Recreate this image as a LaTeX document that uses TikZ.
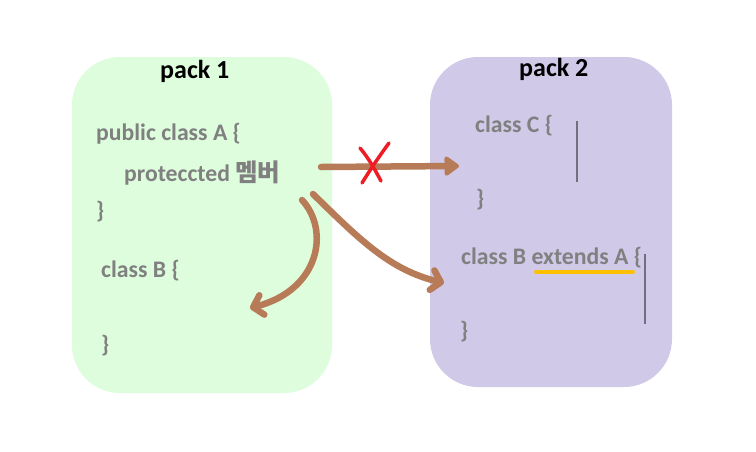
\documentclass[tikz,border=0pt]{standalone}
\usepackage{fontspec}
\setmainfont{Carlito}
\newfontfamily\kr{Noto Sans CJK KR}
\usetikzlibrary{arrows.meta}
\definecolor{pgreen}{HTML}{DDFDDD}
\definecolor{ppurple}{HTML}{D0C9E8}
\definecolor{codegray}{HTML}{808080}
\definecolor{brown}{HTML}{B87B58}
\definecolor{xred}{HTML}{EE1C24}
\definecolor{ylw}{HTML}{FFC000}
\definecolor{bar}{HTML}{707080}
\begin{document}
\begin{tikzpicture}[x=1pt,y=-1pt,
  code/.style={anchor=base west,inner sep=0pt,text=codegray,font=\fontsize{23.7}{25}\selectfont\bfseries},
  title/.style={anchor=base west,inner sep=0pt,text=black,font=\fontsize{26}{28}\selectfont\bfseries},
  pack/.style={rounded corners=48pt},
  conn/.style={draw=brown,line width=6.5pt,line cap=round,line join=round},
  barb/.style={-{Straight Barb[length=9pt,width=20pt,line width=6.5pt,round]}},
  tri/.style={-{Triangle[length=16pt,width=22pt,round]}}]
\useasboundingbox (0,0) rectangle (756,451);
\fill[white] (0,0) rectangle (756,451);
\fill[pgreen,pack] (72,57) rectangle (332,393);
\fill[ppurple,pack] (430,57) rectangle (672,387);
\node[title] (t1) at (160,78) {pack 1};
\node[title] (t2) at (519,76) {pack 2};
\node[code] (pa) at (96,140) {public class A \{};
\node[code] (pm) at (124,181) {proteccted {\kr\fontsize{24.5}{25}\selectfont 멤버}};
\node[code] (pe) at (96,218) {\}};
\node[code] (cb) at (101,277) {class B \{};
\node[code] (cbe) at (101,352) {\}};
\node[code] (cc) at (475,132) {class C \{};
\node[code] (cce) at (476,206) {\}};
\node[code] (cx) at (461,264) {class B extends A \{};
\node[code] (cxe) at (460,338) {\}};
\draw[bar,line width=1.5pt] (577,121) -- (577,182);
\draw[bar,line width=1.5pt] (645,254) -- (645,324);
\draw[ylw,line width=4pt,line cap=round] (536,271.5) -- (633,271.5);
\coordinate (s1) at (321,167);
\coordinate (e1) at (459,166);
\coordinate (s2) at (302,200);
\coordinate (e2) at (250,308);
\coordinate (s3) at (313,194);
\coordinate (e3) at (444,283);
\draw[conn,tri] (s1) -- (e1);
\draw[conn,barb] (s2) .. controls (330,230) and (320,290) .. (e2);
\draw[conn,barb] (s3) .. controls (360,240) and (390,270) .. (e3);
\draw[xred,line width=3.5pt,line cap=round] (360,148) .. controls (370,160) and (375,170) .. (381,181);
\draw[xred,line width=3.5pt,line cap=round] (389,143) .. controls (378,158) and (370,170) .. (362,183);
\end{tikzpicture}
\end{document}
